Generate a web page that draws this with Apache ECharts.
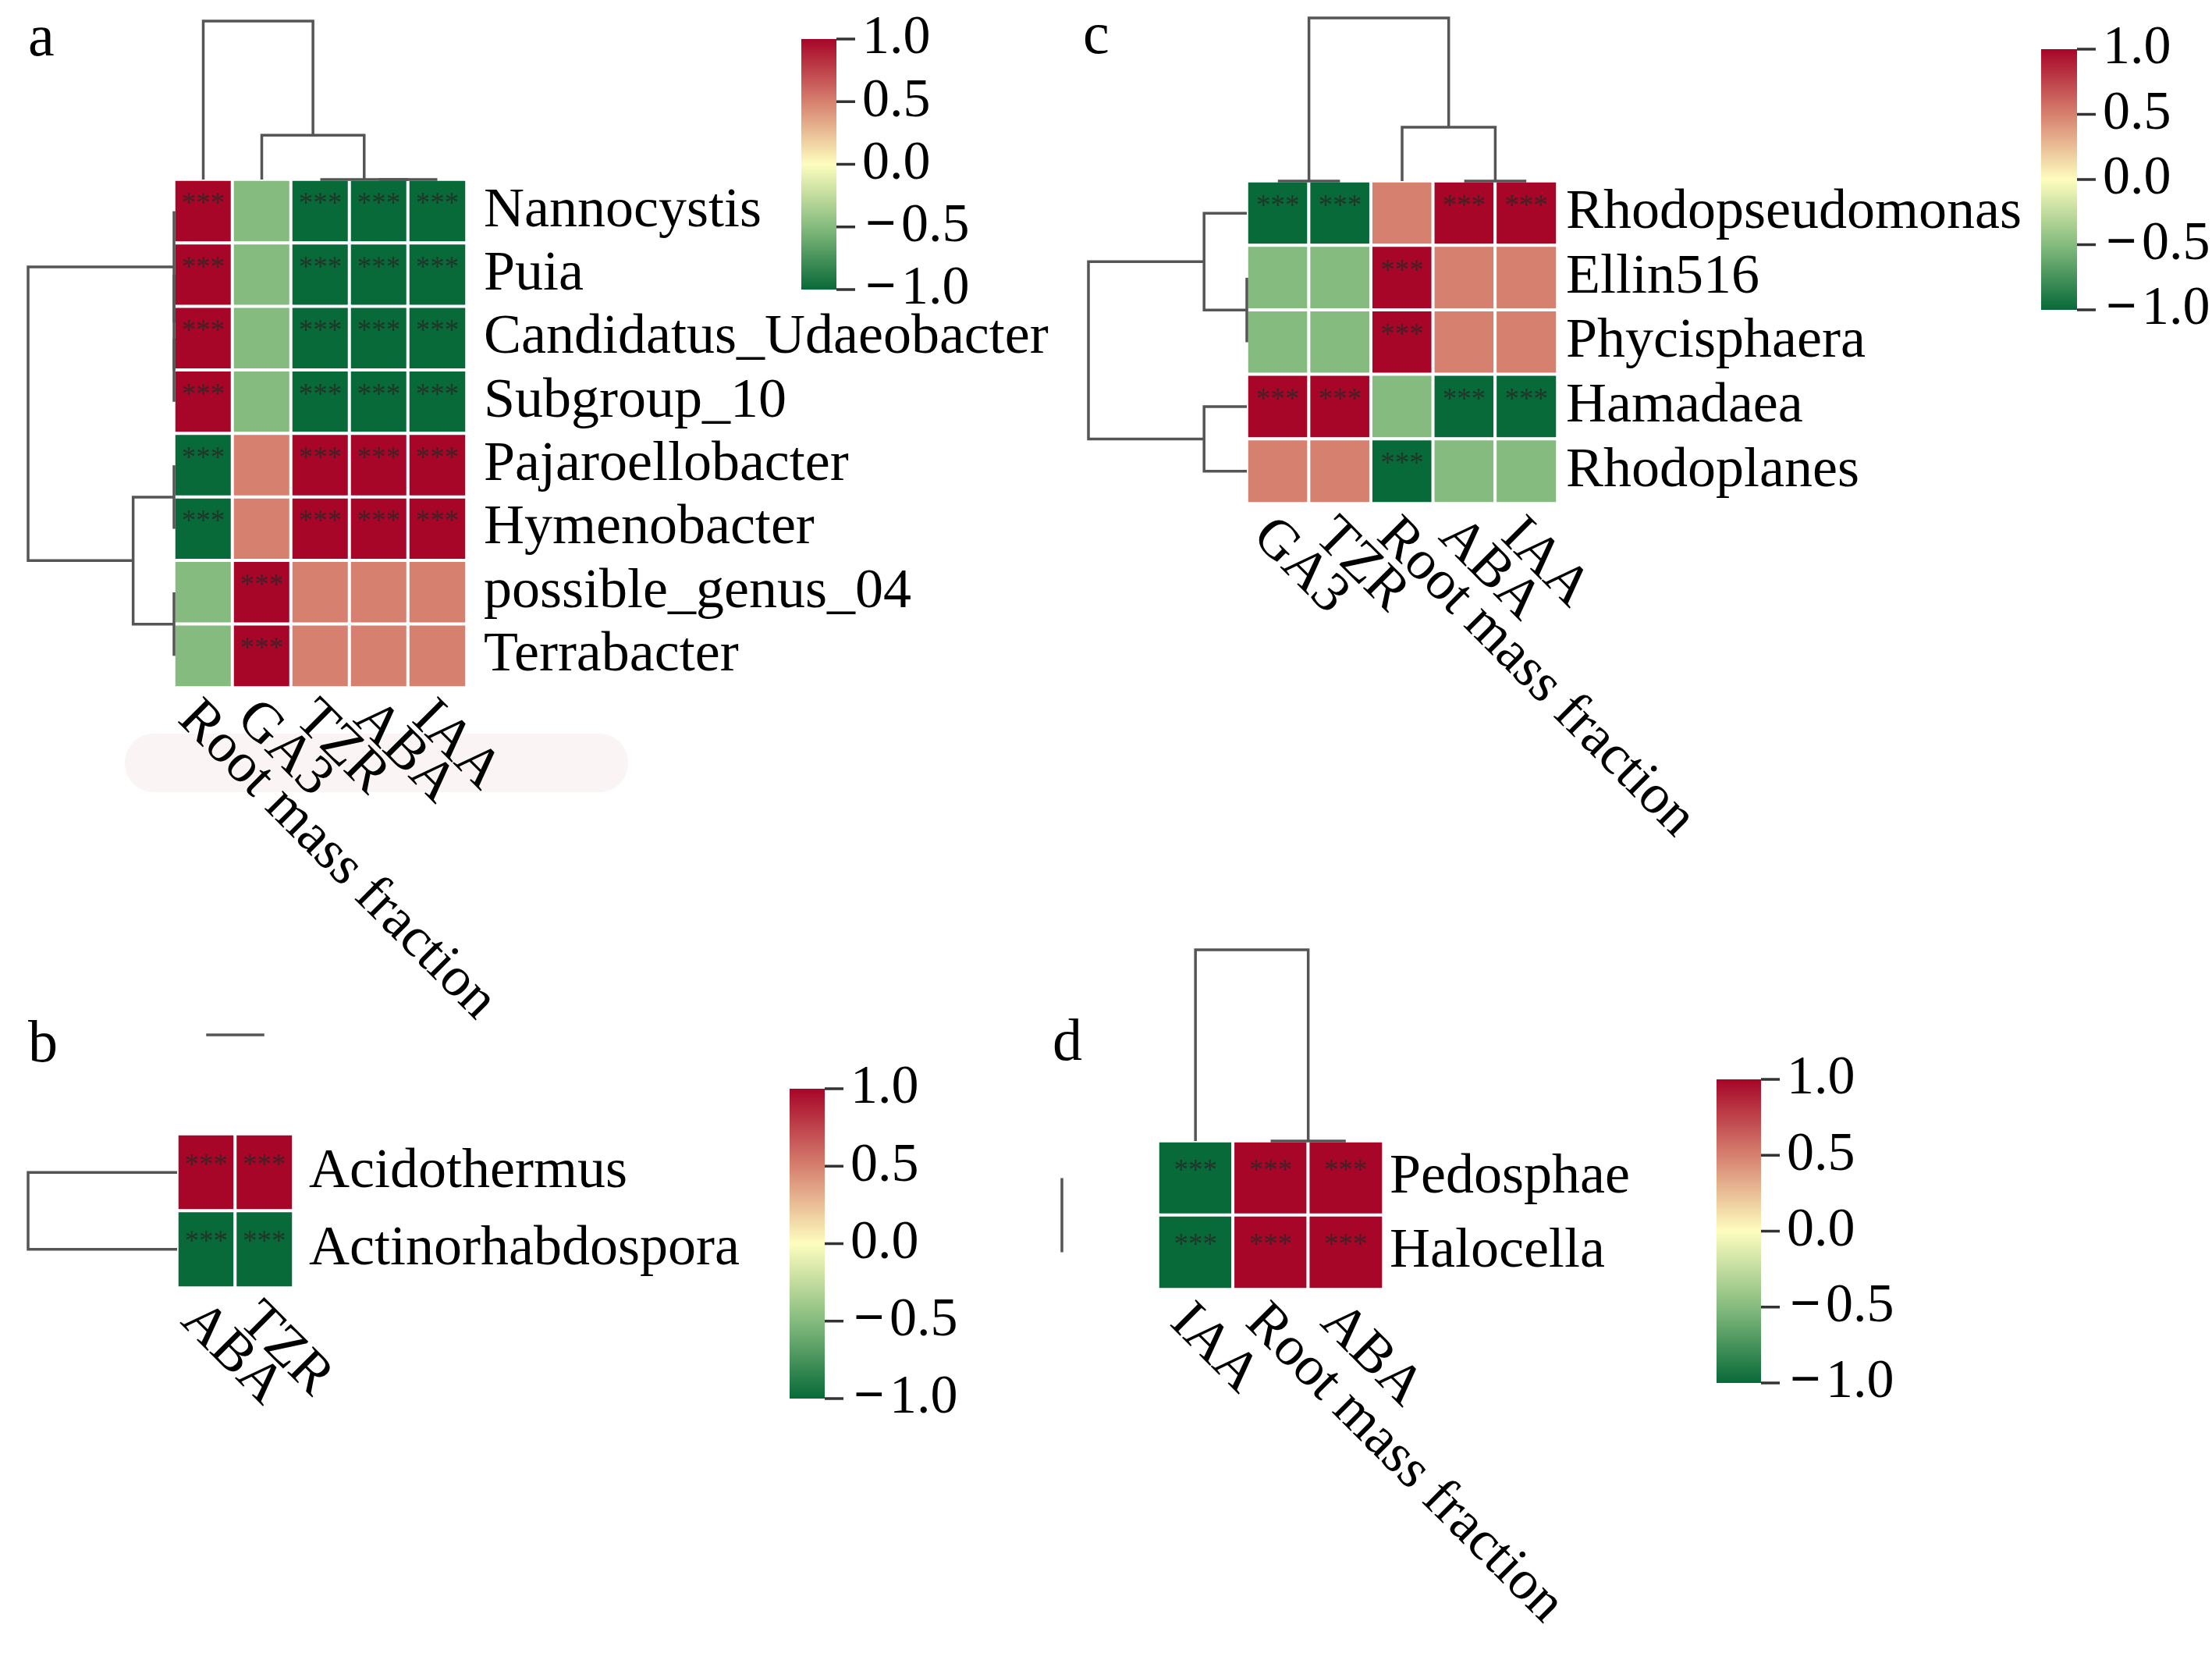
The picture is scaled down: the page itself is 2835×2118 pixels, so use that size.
<!DOCTYPE html>
<html><head><meta charset="utf-8">
<script src="https://cdn.jsdelivr.net/npm/echarts/dist/echarts.min.js"></script>
<style>html,body{margin:0;padding:0;background:#fff}#c{width:2835px;height:2118px}</style>
</head><body><div id="c"></div>
<script>
// ---------------- DATA ----------------
// Panel a
const colsA = ['Root mass fraction','GA3','TZR','ABA','IAA'];
const rowsA = ['Nannocystis','Puia','Candidatus_Udaeobacter','Subgroup_10','Pajaroellobacter','Hymenobacter','possible_genus_04','Terrabacter'];
const valsA = [
  [1,-0.5,-1,-1,-1],
  [1,-0.5,-1,-1,-1],
  [1,-0.5,-1,-1,-1],
  [1,-0.5,-1,-1,-1],
  [-1,0.5,1,1,1],
  [-1,0.5,1,1,1],
  [-0.5,1,0.5,0.5,0.5],
  [-0.5,1,0.5,0.5,0.5]];
const sigA = [
  [1,0,1,1,1],[1,0,1,1,1],[1,0,1,1,1],[1,0,1,1,1],
  [1,0,1,1,1],[1,0,1,1,1],[0,1,0,0,0],[0,1,0,0,0]];
// dendrogram merges: [leftPos, rightPos, leftHeight, rightHeight, mergeHeight]
const colTreeA = [[3,4,0,0,0],[2,3.5,0,0,0],[1,2.75,0,0,0.28],[0,1.875,0,0.28,1]];
const rowTreeA = [[2,3,0,0,0],[1,2.5,0,0,0],[0,1.75,0,0,0],[4,5,0,0,0],[6,7,0,0,0],[4.5,6.5,0,0,0.28],[0.875,5.5,0,0.28,1]];

// Panel b
const colsB = ['ABA','TZR'];
const rowsB = ['Acidothermus','Actinorhabdospora'];
const valsB = [[1,1],[-1,-1]];
const sigB = [[1,1],[1,1]];
const colTreeB = [[0,1,1,1,1]];
const rowTreeB = [[0,1,0,0,1]];

// Panel c
const colsC = ['GA3','TZR','Root mass fraction','ABA','IAA'];
const rowsC = ['Rhodopseudomonas','Ellin516','Phycisphaera','Hamadaea','Rhodoplanes'];
const valsC = [
  [-1,-1,0.5,1,1],
  [-0.5,-0.5,1,0.5,0.5],
  [-0.5,-0.5,1,0.5,0.5],
  [1,1,-0.5,-1,-1],
  [0.5,0.5,-1,-0.5,-0.5]];
const sigC = [[1,1,0,1,1],[0,0,1,0,0],[0,0,1,0,0],[1,1,0,1,1],[0,0,1,0,0]];
const colTreeC = [[0,1,0,0,0],[3,4,0,0,0],[2,3.5,0,0,0.33],[0.5,2.75,0,0.33,1]];
const rowTreeC = [[1,2,0,0,0],[0,1.5,0,0,0.27],[3,4,0,0,0.27],[0.75,3.5,0.27,0.27,1]];

// Panel d
const colsD = ['IAA','Root mass fraction','ABA'];
const rowsD = ['Pedosphae','Halocella'];
const valsD = [[-1,1,1],[-1,1,1]];
const sigD = [[1,1,1],[1,1,1]];
const colTreeD = [[1,2,0,0,0],[0,1.5,0,0,1]];
const rowTreeD = [[0,1,1,1,1]];

// colour scale and its ticks
const scaleMin = -1, scaleMax = 1, scaleStep = 0.5;
const cbTicks = [-1, -0.5, 0, 0.5, 1];
const panelLetters = ['a','b','c','d'];

// ---------------- STYLE / LAYOUT ----------------
const FONT = "'Liberation Serif','Times New Roman',serif";
const palette = ['#086a38','#85bb7e','#fdfdbe','#d6806f','#a70628'];
const panels = [
  {cols:colsA, rows:rowsA, vals:valsA, sig:sigA, colTree:colTreeA, rowTree:rowTreeA,
   L:{hx:223,hy:230,hw:375,hh:651, cdTop:27, rdLeft:36, cb:[1027,50,45,321], ym:22, xm:8}},
  {cols:colsB, rows:rowsB, vals:valsB, sig:sigB, colTree:colTreeB, rowTree:rowTreeB,
   L:{hx:227,hy:1453,hw:149,hh:197, cdTop:1326, rdLeft:36, cb:[1012,1395,45,397], ym:20, xm:10}},
  {cols:colsC, rows:rowsC, vals:valsC, sig:sigC, colTree:colTreeC, rowTree:rowTreeC,
   L:{hx:1598,hy:232,hw:398,hh:413, cdTop:23, rdLeft:1395, cb:[2616,63,46,334], ym:11, xm:10}},
  {cols:colsD, rows:rowsD, vals:valsD, sig:sigD, colTree:colTreeD, rowTree:rowTreeD,
   L:{hx:1484,hy:1462,hw:289,hh:190, cdTop:1217, rdLeft:1361, cb:[2200,1383,57,389], ym:8, xm:10}}
];
const letterPos = [[36,89],[36,1378],[1388,86],[1349,1376]];
const TICK_LEN = 24;

const grid = [], xAxis = [], yAxis = [], series = [], heatIdx = [];
function hiddenVal(min, max, inverse){
  return {type:'value', min:min, max:max, inverse:!!inverse, show:false,
          axisLine:{show:false}, axisTick:{show:false}, axisLabel:{show:false}, splitLine:{show:false}};
}
function dendroSeries(gi, tree, orient){
  return {type:'custom', xAxisIndex:gi, yAxisIndex:gi, clip:false, silent:true, data:tree,
    renderItem:function(params, api){
      const x1=api.value(0), x2=api.value(1), h1=api.value(2), h2=api.value(3), h=api.value(4);
      const pts = orient==='col'
        ? [api.coord([x1,h1]),api.coord([x1,h]),api.coord([x2,h]),api.coord([x2,h2])]
        : [api.coord([h1,x1]),api.coord([h,x1]),api.coord([h,x2]),api.coord([h2,x2])];
      return {type:'polyline', shape:{points:pts}, style:{stroke:'#555', lineWidth:3.5, fill:null}};
    }};
}

panels.forEach(function(p){
  const L = p.L;
  // heatmap grid
  let gi = grid.length;
  grid.push({left:L.hx, top:L.hy, width:L.hw, height:L.hh, outerBoundsMode:'none', containLabel:false});
  xAxis.push({type:'category', gridIndex:gi, data:p.cols, position:'bottom',
    axisLine:{show:false}, axisTick:{show:false}, splitLine:{show:false},
    axisLabel:{interval:0, rotate:-45, fontSize:72, fontFamily:FONT, color:'#000', margin:L.xm,
      verticalAlign:'top', lineHeight:60}});
  yAxis.push({type:'category', gridIndex:gi, data:p.rows, inverse:true, position:'right',
    axisLine:{show:false}, axisTick:{show:false}, splitLine:{show:false},
    axisLabel:{interval:0, fontSize:72, fontFamily:FONT, color:'#000', margin:L.ym}});
  const data = [];
  p.vals.forEach(function(r,i){ r.forEach(function(v,j){ data.push([j,i,v,p.sig[i][j]]); }); });
  heatIdx.push(series.length);
  series.push({type:'heatmap', xAxisIndex:gi, yAxisIndex:gi, data:data,
    itemStyle:{borderColor:'#fff', borderWidth:4},
    emphasis:{disabled:true},
    label:{show:true, formatter:function(q){return q.data[3] ? '***' : '';},
      fontSize:37, fontFamily:FONT, color:'rgba(40,40,40,0.78)', offset:[0,-8]}});
  // column dendrogram
  gi = grid.length;
  grid.push({left:L.hx, top:L.cdTop, width:L.hw, height:L.hy-L.cdTop, outerBoundsMode:'none'});
  xAxis.push(Object.assign({gridIndex:gi}, hiddenVal(-0.5, p.cols.length-0.5)));
  yAxis.push(Object.assign({gridIndex:gi}, hiddenVal(0, 1)));
  series.push(dendroSeries(gi, p.colTree, 'col'));
  // row dendrogram
  gi = grid.length;
  grid.push({left:L.rdLeft, top:L.hy, width:L.hx-L.rdLeft, height:L.hh, outerBoundsMode:'none'});
  xAxis.push(Object.assign({gridIndex:gi}, hiddenVal(0, 1, true)));
  yAxis.push(Object.assign({gridIndex:gi}, hiddenVal(-0.5, p.rows.length-0.5, true)));
  series.push(dendroSeries(gi, p.rowTree, 'row'));
  // colour bar
  gi = grid.length;
  grid.push({left:L.cb[0], top:L.cb[1], width:L.cb[2], height:L.cb[3], outerBoundsMode:'none'});
  xAxis.push(Object.assign({gridIndex:gi}, hiddenVal(0, 1)));
  yAxis.push({type:'value', gridIndex:gi, min:scaleMin, max:scaleMax, interval:scaleStep, position:'right',
    axisLine:{show:false}, splitLine:{show:false}, axisTick:{show:false},
    axisLabel:{fontSize:70, fontFamily:FONT, color:'#000', margin:33,
      formatter:function(v){ return v<0 ? '{m|\u2212}' + Math.abs(v).toFixed(1) : Math.abs(v).toFixed(1); },
      rich:{m:{fontSize:70, fontFamily:FONT, fontWeight:'bold', color:'#000', padding:[0,6,0,4]}}}});
  series.push({type:'custom', xAxisIndex:gi, yAxisIndex:gi, silent:true, z:1, data:[[0,1,scaleMin,scaleMax]],
    renderItem:function(params, api){
      const a = api.coord([api.value(0), api.value(3)]);
      const b = api.coord([api.value(1), api.value(2)]);
      const stops = palette.slice().reverse().map(function(c,k,arr){return {offset:k/(arr.length-1), color:c};});
      return {type:'rect', shape:{x:a[0], y:a[1], width:b[0]-a[0], height:b[1]-a[1]},
        style:{fill:new echarts.graphic.LinearGradient(0,0,0,1,stops)}};
    }});
  // colour bar ticks (on the right edge, through the bar's value scale)
  series.push({type:'custom', xAxisIndex:gi, yAxisIndex:gi, silent:true, clip:false, z:3,
    data:cbTicks.map(function(t){return [1, t];}),
    renderItem:function(params, api){
      const c = api.coord([api.value(0), api.value(1)]);
      return {type:'line', shape:{x1:c[0], y1:c[1], x2:c[0]+TICK_LEN, y2:c[1]},
        style:{stroke:'#333', lineWidth:3.5}};
    }});
});

const graphic = [
  {type:'rect', z:-10, shape:{x:160, y:940, width:645, height:75, r:37}, style:{fill:'#faf4f4'}}
];
panelLetters.forEach(function(t,k){
  graphic.push({type:'text', x:letterPos[k][0], y:letterPos[k][1],
    style:{text:t, font:'76px ' + FONT, fill:'#000', verticalAlign:'bottom'}});
});

const chart = echarts.init(document.getElementById('c'), null, {renderer:'canvas'});
chart.setOption({
  backgroundColor:'#fff',
  animation:false,
  grid:grid, xAxis:xAxis, yAxis:yAxis,
  visualMap:{type:'continuous', show:false, min:scaleMin, max:scaleMax, dimension:2,
    seriesIndex:heatIdx, inRange:{color:palette}},
  graphic:graphic,
  series:series
});
</script></body></html>
